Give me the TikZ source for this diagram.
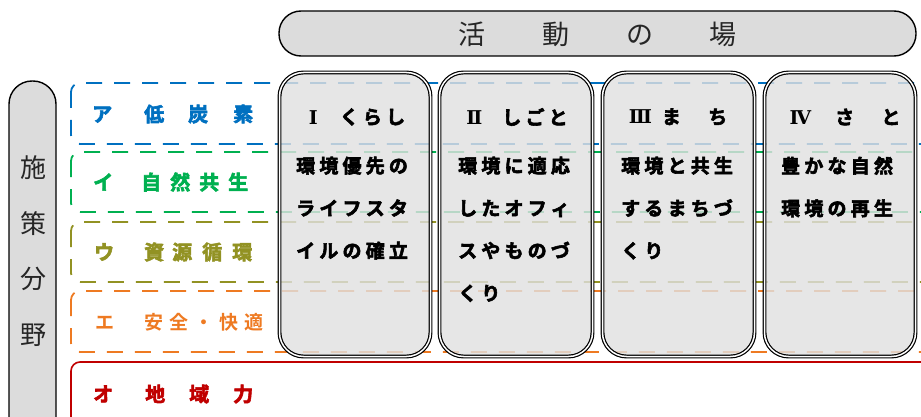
\documentclass[tikz,border=0pt]{standalone}
\usepackage{fontspec}
\usepackage{tikz}
\usetikzlibrary{positioning}
\newfontfamily\jpfont{Noto Sans CJK JP}[BoldFont={Noto Sans CJK JP Bold}]
\newfontfamily\jpheavy{Noto Sans CJK JP Bold}[FakeBold=3]
\newfontfamily\numfont{DejaVu Serif}
\definecolor{bargray}{HTML}{DCDCDC}
\definecolor{boxgray}{HTML}{E0E0E0}
\definecolor{areablue}{HTML}{0070C0}
\definecolor{areagreen}{HTML}{00B050}
\definecolor{areaolive}{HTML}{929223}
\definecolor{areaorange}{HTML}{EE7A22}
\definecolor{areared}{HTML}{C00000}
\newcommand{\gap}[1]{\hspace{#1pt}}
\newcommand{\num}[1]{{\numfont\bfseries #1}}
\tikzset{
    bar/.style={draw=black, line width=1.4pt, fill=bargray, rounded corners=22pt},
    field/.style={rectangle, draw=black, line width=1.2pt, double=white, double distance=1.5pt, fill=boxgray, fill opacity=0.82, rounded corners=24pt},
    area/.style={line width=1.8pt, dash pattern=on 16pt off 12pt, rounded corners=9pt},
    arealabel/.style={anchor=west, inner sep=0pt, font=\jpheavy\fontsize{20}{24}\selectfont},
    fieldhead/.style={inner sep=0pt, font=\jpheavy\fontsize{19}{23}\selectfont\addfontfeature{LetterSpace=22}},
    fieldtext/.style={anchor=north west, align=left, inner sep=0pt, font=\jpheavy\fontsize{19}{42.5}\selectfont\addfontfeature{LetterSpace=22}}
}
\begin{document}
\begin{tikzpicture}[x=1pt, y=-1pt]
    \path[use as bounding box, clip] (0,0) rectangle (921,417);

    % policy areas
    \draw[area, areablue] (71,83) rectangle (960,144);
    \draw[area, areagreen] (71,152) rectangle (960,212);
    \draw[area, areaolive] (71,222) rectangle (960,282);
    \draw[area, areaorange] (71,291) rectangle (960,352);
    \draw[line width=1.6pt, areared, rounded corners=9pt] (71,362) rectangle (960,460);

    \node[arealabel, text=areablue] (teitanso) at (92,114) {ア\gap{32}低\gap{24}炭\gap{25}素};
    \node[arealabel, text=areagreen] (shizen) at (93,182) {イ\gap{28}自\gap{9}然\gap{9}共\gap{9}生};
    \node[arealabel, text=areaolive] (shigen) at (94,252) {ウ\gap{30}資\gap{8}源\gap{10}循\gap{10}環};
    \node[arealabel, text=areaorange, font=\jpfont\bfseries\fontsize{19}{24}\selectfont] (anzen) at (95.5,322) {エ\gap{30}安\gap{6}全\gap{6}・\gap{6}快\gap{6}適};
    \node[arealabel, text=areared] (chiiki) at (93,394) {オ\gap{32}地\gap{24}域\gap{24}力};

    % fields of activity
    \node[field, minimum width=151pt, minimum height=284pt] (kurashi) at (355,214.5) {};
    \node[field, minimum width=153pt, minimum height=284pt] (shigoto) at (516,214.5) {};
    \node[field, minimum width=152pt, minimum height=284pt] (machi) at (678.5,214.5) {};
    \node[field, minimum width=151pt, minimum height=284pt] (sato) at (840,214.5) {};

    \node[fieldhead] (kurashihead) at (357,117) {\num{Ⅰ}\gap{22}くらし};
    \node[fieldhead] (shigotohead) at (517,117) {\num{Ⅱ}\gap{20}しごと};
    \node[fieldhead] (machihead) at (678,117) {\num{Ⅲ}\gap{10}ま　ち};
    \node[fieldhead] (satohead) at (845,117) {\num{Ⅳ}\gap{24}さ　と};

    \node[fieldtext] (kurashitext) at (296,156.5) {環境優先の\\ライフスタ\\イルの確立};
    \node[fieldtext] (shigototext) at (458,156.5) {環境に適応\\したオフィ\\スやものづ\\くり};
    \node[fieldtext] (machitext) at (621,156.5) {環境と共生\\するまちづ\\くり};
    \node[fieldtext] (satotext) at (781,156.5) {豊かな自然\\環境の再生};

    % headings
    \draw[bar] (279,11) rectangle (916,56);
    \node[anchor=west, inner sep=0pt, text=black!85, font=\jpfont\fontsize{27}{30}\selectfont\addfontfeature{LetterSpace=210}] (katsudo) at (458.5,34) {活動の場};
    \draw[bar, rounded corners=23pt] (9,81) rectangle (56,450);
    \node[align=center, inner sep=0pt, text=black!85, font=\jpfont\fontsize{26}{55.5}\selectfont] (shisaku) at (33,251) {施\\策\\分\\野};
\end{tikzpicture}
\end{document}
